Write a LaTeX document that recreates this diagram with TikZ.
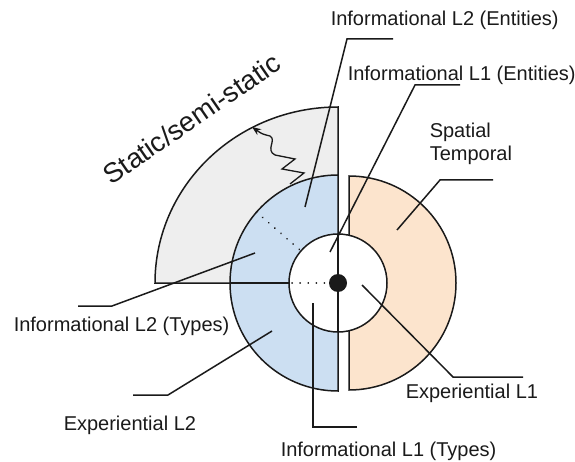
\documentclass[tikz,border=0pt]{standalone}
\usepackage{fontspec}
\setmainfont{Liberation Sans}
\usetikzlibrary{arrows.meta}
\definecolor{greyfill}{HTML}{EEEEEE}
\definecolor{bluefill}{HTML}{CCDFF2}
\definecolor{orangefill}{HTML}{FCE4CD}
\definecolor{inkc}{HTML}{1A1A1A}
\begin{document}
\begin{tikzpicture}[x=1pt,y=-1pt, line width=1.5pt, draw=inkc,
  lbl/.style={font=\fontsize{20}{23}\selectfont, text=inkc, inner sep=0pt, anchor=base west},
  region/.style={draw=inkc, line width=1.5pt},
  leader/.style={draw=inkc, line width=1.5pt},
  dotline/.style={draw=inkc, line width=1.8pt, dash pattern=on 0.1pt off 8pt, line cap=round}]
\useasboundingbox (0,0) rectangle (575,462);
\coordinate (ctr) at (338,283);
% regions
\filldraw[region, fill=greyfill] (338,283) -- (155,283) arc[start angle=180, end angle=90, x radius=183pt, y radius=176pt] -- cycle;
\filldraw[region, fill=orangefill] (349,176) arc[start angle=90, end angle=-90, radius=107pt] -- cycle;
\filldraw[region, fill=bluefill] (338,175) arc[start angle=90, end angle=270, radius=108pt] -- cycle;
\filldraw[region, fill=white] (ctr) circle[radius=49pt];
\draw[region] (338,234) -- (338,332);
\draw[region] (230,283) -- (289,283);
\coordinate (do1) at (256.5,212.1);
\coordinate (do2) at (301,250.9);
\draw[dotline] (do1) -- (do2);
\coordinate (dh1) at (292,283);
\coordinate (dh2) at (328,283);
\draw[dotline] (dh1) -- (dh2);
% wavy arrow
\coordinate (w0) at (290,184);
\coordinate (wt) at (252,127);
\draw[line width=1.3pt, -{Stealth[length=9pt,width=7pt]}] (w0) -- (304,173) -- (282,169) -- (295,159) -- (275,155) .. controls (265,150) and (277,140) .. (270,136) .. controls (262,134) .. (wt);
% labels
\node[lbl] (tL2E) at (330,26) {Informational L2 (Entities)};
\node[lbl] (tL1E) at (347,81) {Informational L1 (Entities)};
\node[lbl, anchor=north west, align=left] (tST) at (429,122.5) {Spatial\\Temporal};
\node[lbl] (tL2T) at (13,331) {Informational L2 (Types)};
\node[lbl] (tEL2) at (63,430) {Experiential L2};
\node[lbl] (tL1T) at (280,456.5) {Informational L1 (Types)};
\node[lbl] (tEL1) at (405,398) {Experiential L1};
\node[font=\fontsize{27.5}{30}\selectfont, text=inkc, inner sep=0pt, rotate=34.5, anchor=base west] (tSt) at (111,186) {Static/semi-static};
% leaders
\coordinate (a1) at (393,39); \coordinate (b1) at (347,39); \coordinate (c1) at (305,207);
\coordinate (a2) at (460,85); \coordinate (b2) at (415,85); \coordinate (c2) at (330,252);
\coordinate (a3) at (493,180); \coordinate (b3) at (440,180); \coordinate (c3) at (397,230);
\coordinate (a4) at (78,306); \coordinate (b4) at (112,306); \coordinate (c4) at (255,253);
\coordinate (a5) at (133,395); \coordinate (b5) at (168,395); \coordinate (c5) at (272,331);
\coordinate (a6) at (357,427); \coordinate (b6) at (313,427); \coordinate (c6) at (313,303);
\coordinate (a7) at (523,377); \coordinate (b7) at (453,377); \coordinate (c7) at (362,285);
\foreach \i in {1,...,7} {\draw[leader] (a\i) -- (b\i) -- (c\i);}
% centre dot
\fill[inkc] (ctr) circle[radius=9pt];
\end{tikzpicture}
\end{document}
